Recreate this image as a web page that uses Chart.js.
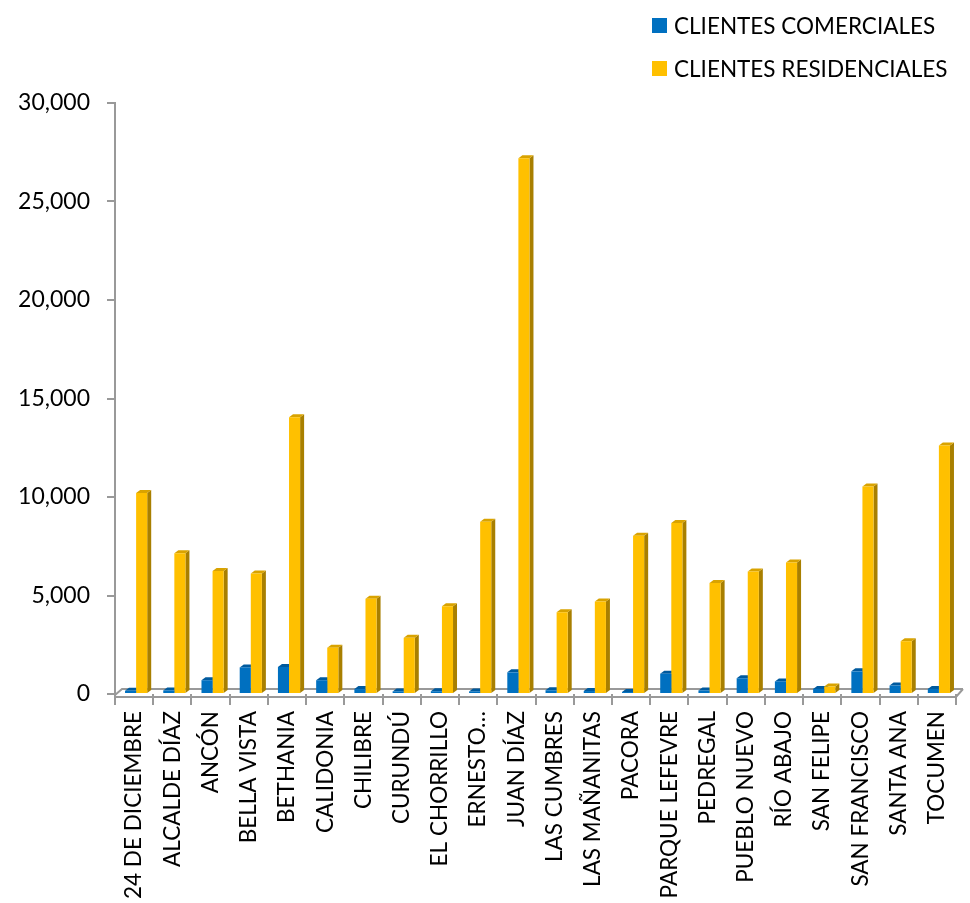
<!DOCTYPE html>
<html>
<head>
<meta charset="utf-8">
<script src="https://cdn.jsdelivr.net/npm/chart.js@4.4.1/dist/chart.umd.min.js"></script>
<style>
  html, body { margin: 0; padding: 0; background: #fff; }
  #wrap { position: relative; width: 970px; height: 903px; }
  #legend { position: absolute; left: 652px; top: 4px; font-family: Lato, "Open Sans", sans-serif; font-size: 22.5px; color: #000; }
  .item { display: flex; align-items: center; height: 43px; white-space: nowrap; }
  .sw { width: 15px; height: 15px; margin-right: 7px; display: inline-block; }
</style>
</head>
<body>
<div id="wrap">
  <canvas id="c" width="970" height="903"></canvas>
  <div id="legend"></div>
</div>
<script>
const categories = ["24 DE DICIEMBRE", "ALCALDE DÍAZ", "ANCÓN", "BELLA VISTA", "BETHANIA", "CALIDONIA", "CHILIBRE", "CURUNDÚ", "EL CHORRILLO", "ERNESTO…", "JUAN DÍAZ", "LAS CUMBRES", "LAS MAÑANITAS", "PACORA", "PARQUE LEFEVRE", "PEDREGAL", "PUEBLO NUEVO", "RÍO ABAJO", "SAN FELIPE", "SAN FRANCISCO", "SANTA ANA", "TOCUMEN"];
const seriesNames = ["CLIENTES COMERCIALES", "CLIENTES RESIDENCIALES"];
const comerciales = [160, 180, 700, 1350, 1370, 700, 250, 130, 140, 130, 1100, 190, 150, 100, 1030, 180, 800, 640, 260, 1150, 430, 260];
const residenciales = [10200, 7150, 6250, 6120, 14050, 2350, 4830, 2850, 4450, 8750, 27200, 4150, 4700, 8030, 8680, 5630, 6220, 6680, 380, 10530, 2680, 12620];
const yTicks = [0, 5000, 10000, 15000, 20000, 25000, 30000];

const frontColors = ["#0070C0", "#FFC000"];
const sideColors = ["#004C85", "#A87F00"];
const topColors = ["#005A9E", "#D9A300"];
const DX = 4, DY = -3, SHIFT = 2;
const FONT = "Lato, 'Open Sans', sans-serif";

// HTML legend from the series names
const lg = document.getElementById('legend');
seriesNames.forEach((n, i) => {
  const d = document.createElement('div'); d.className = 'item';
  const s = document.createElement('span'); s.className = 'sw'; s.style.background = frontColors[i];
  d.appendChild(s); d.appendChild(document.createTextNode(n)); lg.appendChild(d);
});

const threeD = {
  id: 'threeD',
  beforeDatasetsDraw(chart) {
    const ctx = chart.ctx, a = chart.chartArea;
    ctx.save();
    // floor
    ctx.strokeStyle = '#999'; ctx.lineWidth = 2;
    ctx.beginPath();
    ctx.moveTo(a.left, a.bottom + 3); ctx.lineTo(a.right, a.bottom + 3);
    ctx.lineTo(a.right + 7, a.bottom - 5);
    ctx.moveTo(a.left, a.bottom + 1); ctx.lineTo(a.left + 7, a.bottom - 5); ctx.lineTo(a.right + 7, a.bottom - 5);
    ctx.moveTo(a.left, a.bottom); ctx.lineTo(a.left, a.bottom + 4);
    ctx.stroke();
    ctx.translate(SHIFT, 0);
    chart.data.datasets.forEach((ds, di) => {
      const meta = chart.getDatasetMeta(di);
      meta.data.forEach(bar => {
        const p = bar.getProps(['x', 'y', 'base', 'width'], true);
        const l = p.x - p.width / 2, r = p.x + p.width / 2;
        ctx.fillStyle = sideColors[di];
        ctx.beginPath();
        ctx.moveTo(r, p.y); ctx.lineTo(r + DX, p.y + DY); ctx.lineTo(r + DX, p.base + DY); ctx.lineTo(r, p.base);
        ctx.closePath(); ctx.fill();
        ctx.fillStyle = topColors[di];
        ctx.beginPath();
        ctx.moveTo(l, p.y); ctx.lineTo(l + DX, p.y + DY); ctx.lineTo(r + DX, p.y + DY); ctx.lineTo(r, p.y);
        ctx.closePath(); ctx.fill();
      });
    });
    ctx.restore();
    ctx.save();
    ctx.translate(SHIFT, 0);
  },
  afterDatasetsDraw(chart) {
    chart.ctx.restore();
  }
};

new Chart(document.getElementById('c'), {
  type: 'bar',
  data: {
    labels: categories,
    datasets: [
      { label: seriesNames[0], data: comerciales, backgroundColor: frontColors[0], borderWidth: 0 },
      { label: seriesNames[1], data: residenciales, backgroundColor: frontColors[1], borderWidth: 0 }
    ]
  },
  options: {
    responsive: false,
    animation: false,
    devicePixelRatio: 1,
    locale: 'en-US',
    layout: { padding: { top: 103, right: 5, left: 0, bottom: 0 } },
    datasets: { bar: { categoryPercentage: 0.58, barPercentage: 1.0 } },
    plugins: { legend: { display: false }, tooltip: { enabled: false } },
    scales: {
      x: {
        grid: { display: true, drawOnChartArea: false, offset: true, tickLength: 11, color: '#999', lineWidth: 2 },
        border: { display: false },
        ticks: { color: '#000', font: { family: FONT, size: 22.5 }, maxRotation: 90, minRotation: 90, padding: 6, autoSkip: false },
        afterFit(s) { s.height = 209; }
      },
      y: {
        min: 0, max: 30000,
        afterBuildTicks(s) { s.ticks = yTicks.map(v => ({ value: v })); },
        grid: { drawOnChartArea: false, tickLength: 8, color: '#999', lineWidth: 2 },
        border: { color: '#999', width: 2 },
        ticks: { color: '#000', font: { family: FONT, size: 23 }, padding: 17 },
        afterFit(s) { s.width = 115; }
      }
    }
  },
  plugins: [threeD]
});
</script>
</body>
</html>
